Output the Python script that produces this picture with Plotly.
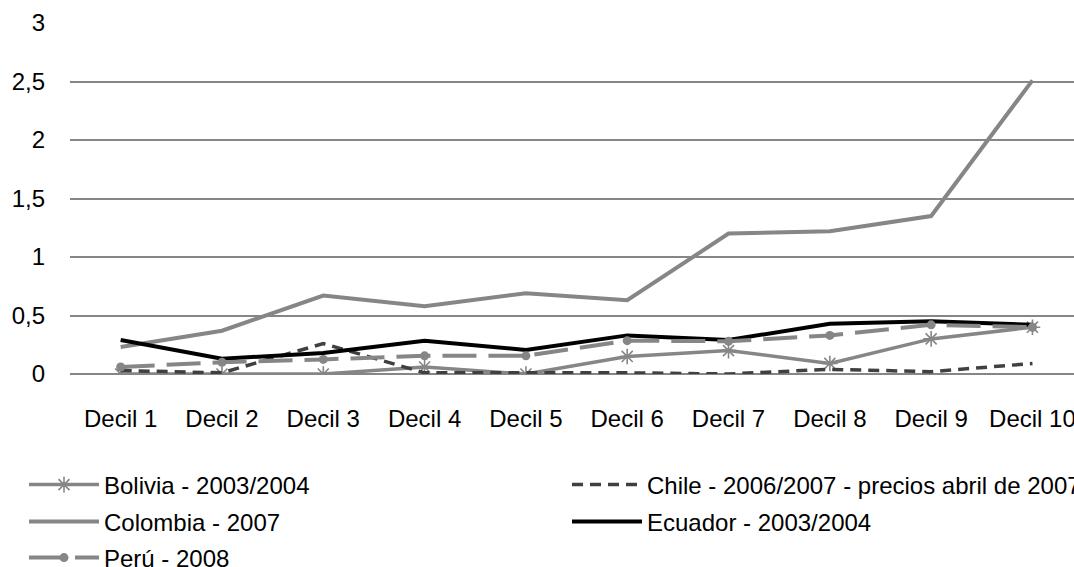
import plotly.graph_objects as go

deciles = ["Decil 1", "Decil 2", "Decil 3", "Decil 4", "Decil 5",
           "Decil 6", "Decil 7", "Decil 8", "Decil 9", "Decil 10"]

bolivia = [0.0, 0.0, 0.0, 0.06, 0.0, 0.15, 0.20, 0.09, 0.30, 0.40]
chile = [0.03, 0.01, 0.26, 0.01, 0.01, 0.01, 0.0, 0.04, 0.02, 0.09]
colombia = [0.23, 0.37, 0.67, 0.58, 0.69, 0.63, 1.20, 1.22, 1.35, 2.51]
ecuador = [0.29, 0.13, 0.18, 0.285, 0.205, 0.33, 0.29, 0.43, 0.45, 0.42]
peru = [0.06, 0.10, 0.125, 0.155, 0.155, 0.285, 0.28, 0.33, 0.42, 0.40]

y_ticks = [0, 0.5, 1, 1.5, 2, 2.5, 3]

FONT = "Liberation Sans, Arial, sans-serif"
FSIZE = 24
GRAY = "#868686"

fig = go.Figure()

fig.add_trace(go.Scatter(
    x=deciles, y=bolivia, name="Bolivia - 2003/2004", mode="lines+markers",
    line=dict(color=GRAY, width=3.5),
    marker=dict(symbol="asterisk-open", size=13, color=GRAY, line=dict(color=GRAY, width=1.6)),
    legend="legend"))
fig.add_trace(go.Scatter(
    x=deciles, y=chile, name="Chile - 2006/2007 - precios abril de 2007", mode="lines",
    line=dict(color="#404040", width=3.5, dash="11px,7px"),
    legend="legend2"))
fig.add_trace(go.Scatter(
    x=deciles, y=colombia, name="Colombia - 2007", mode="lines",
    line=dict(color=GRAY, width=4),
    legend="legend3"))
fig.add_trace(go.Scatter(
    x=deciles, y=ecuador, name="Ecuador - 2003/2004", mode="lines",
    line=dict(color="#000000", width=4),
    legend="legend4"))
fig.add_trace(go.Scatter(
    x=deciles, y=peru, name="Perú - 2008", mode="lines+markers",
    line=dict(color=GRAY, width=4, dash="34px,12px"),
    marker=dict(symbol="circle", size=9, color=GRAY),
    legend="legend5"))

W, H = 1074.0, 567.0


def legend_at(x_px, y_px):
    return dict(
        x=x_px / W, y=1 - y_px / H, xref="container", yref="container",
        xanchor="left", yanchor="middle", bgcolor="rgba(0,0,0,0)",
        font=dict(family=FONT, size=FSIZE, color="#000000"),
        itemwidth=70, borderwidth=0,
    )


fig.update_layout(
    width=1074, height=567,
    margin=dict(l=70, r=0, t=23, b=193, autoexpand=False),
    paper_bgcolor="white", plot_bgcolor="white",
    separators=",.",
    font=dict(family=FONT, size=FSIZE, color="#000000"),
    showlegend=True,
    legend=legend_at(24, 485),
    legend2=legend_at(567, 485),
    legend3=legend_at(24, 522),
    legend4=legend_at(567, 522),
    legend5=legend_at(24, 558),
    xaxis=dict(
        type="category", range=[-0.5, 9.41], showgrid=False,
        showline=False, ticks="", zeroline=False, tickangle=0,
        ticklabelstandoff=28, automargin=False,
        tickfont=dict(family=FONT, size=FSIZE, color="#000000"),
    ),
    yaxis=dict(
        range=[0, 3], tickvals=y_ticks, showgrid=True, gridcolor=GRAY, gridwidth=1.5,
        zeroline=True, zerolinecolor=GRAY, zerolinewidth=2,
        showline=False, ticks="", ticklabelstandoff=24, automargin=False,
        tickfont=dict(family=FONT, size=FSIZE, color="#000000"),
    ),
)

fig.write_html("out.html")
